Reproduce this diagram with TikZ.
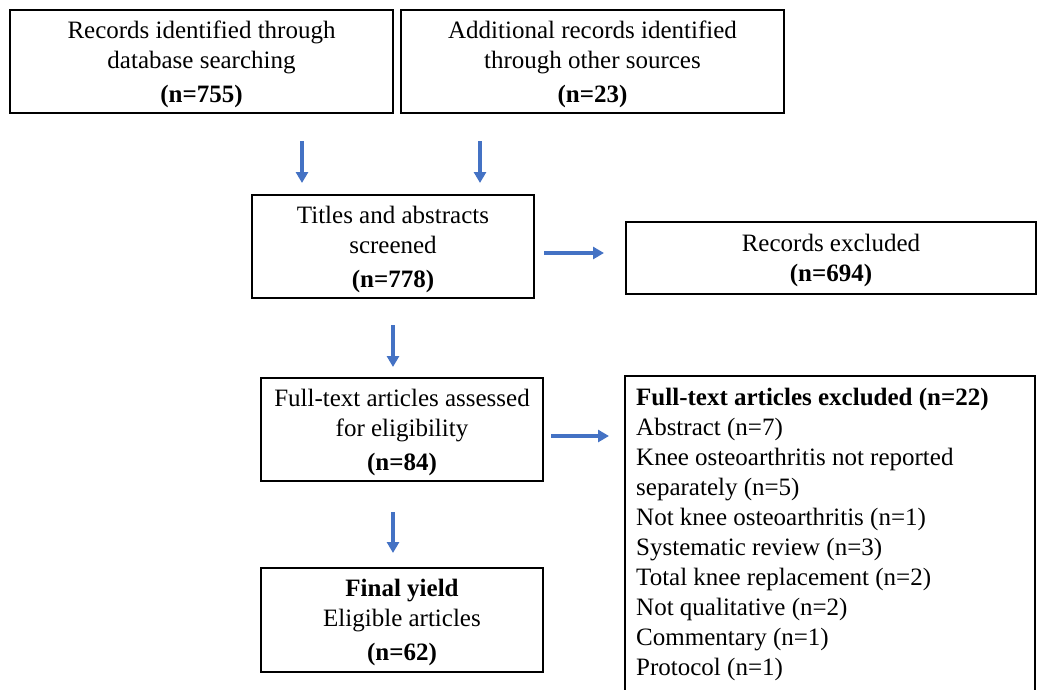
\documentclass[tikz,border=0pt]{standalone}
\usepackage{fontspec}
\setmainfont{Liberation Serif}
\usetikzlibrary{positioning}
\usetikzlibrary{arrows.meta}
\definecolor{flowblue}{RGB}{68,114,196}
\tikzset{
    prisma/.style={
            x=1pt,y=-1pt,
            font=\fontsize{25}{30}\selectfont,
            box/.style={draw,line width=2pt,align=center,anchor=north west,inner sep=0pt,text depth=0pt},
            boxline/.style={draw,line width=2pt},
            flow/.style={-{Triangle[length=11pt,width=12pt]},line width=3.4pt,draw=flowblue,fill=flowblue}
        }
    }

\begin{document}
\begin{tikzpicture}[prisma]
    \useasboundingbox (0,0) rectangle (1037,689);
    \node[box,minimum width=383pt,minimum height=103pt] (A) at (9,9)
        {Records identified through\\database searching\\[4pt]\textbf{(n=755)}};
    \node[box,minimum width=383pt,minimum height=103pt] (B) at (400,9)
        {Additional records identified\\through other sources\\[4pt]\textbf{(n=23)}};
    \node[box,minimum width=282pt,minimum height=103pt] (C) at (251,194)
        {Titles and abstracts\\screened\\[4pt]\textbf{(n=778)}};
    \node[box,minimum width=410pt,minimum height=72pt] (D) at (625,221)
        {Records excluded\\\textbf{(n=694)}};
    \node[box,minimum width=282pt,minimum height=103pt] (E) at (260,377)
        {Full-text articles assessed\\for eligibility\\[4pt]\textbf{(n=84)}};
    \node[box,minimum width=282pt,minimum height=104pt] (G) at (260,567)
        {\textbf{Final yield}\\Eligible articles\\[4pt]\textbf{(n=62)}};
    % open box for the exclusion list
    \node[anchor=north west,minimum width=410pt,minimum height=314pt,inner sep=0pt] (F) at (625,376) {};
    \draw[boxline] (F.south west) |- (F.north east) -- (F.south east);
    \node[anchor=north west,align=left,inner sep=0pt] (Flist) at ([xshift=11pt,yshift=-12pt]F.north west)
        {\textbf{Full-text articles excluded (n=22)}\\
         Abstract (n=7)\\
         Knee osteoarthritis not reported\\
         separately (n=5)\\
         Not knee osteoarthritis (n=1)\\
         Systematic review (n=3)\\
         Total knee replacement (n=2)\\
         Not qualitative (n=2)\\
         Commentary (n=1)\\
         Protocol (n=1)};
    \draw[flow,shorten <=27pt,shorten >=11pt] ([xshift=100.5pt]A.south) -- ([xshift=100.5pt]A.south |- C.north);
    \draw[flow,shorten <=27pt,shorten >=11pt] ([xshift=-112.5pt]B.south) -- ([xshift=-112.5pt]B.south |- C.north);
    \draw[flow] ([xshift=9pt,yshift=-6.5pt]C.east) -- ([xshift=-21pt,yshift=5pt]D.west);
    \draw[flow,shorten <=26pt,shorten >=10pt] (C.south) -- (C.south |- E.north);
    \draw[flow,shorten <=7pt,shorten >=16pt] ([yshift=-6.5pt]E.east) -- ([yshift=-6.5pt]E.east -| F.west);
    \draw[flow,shorten <=30pt,shorten >=14pt] ([xshift=-9pt]E.south) -- ([xshift=-9pt]G.north);
\end{tikzpicture}
\end{document}
